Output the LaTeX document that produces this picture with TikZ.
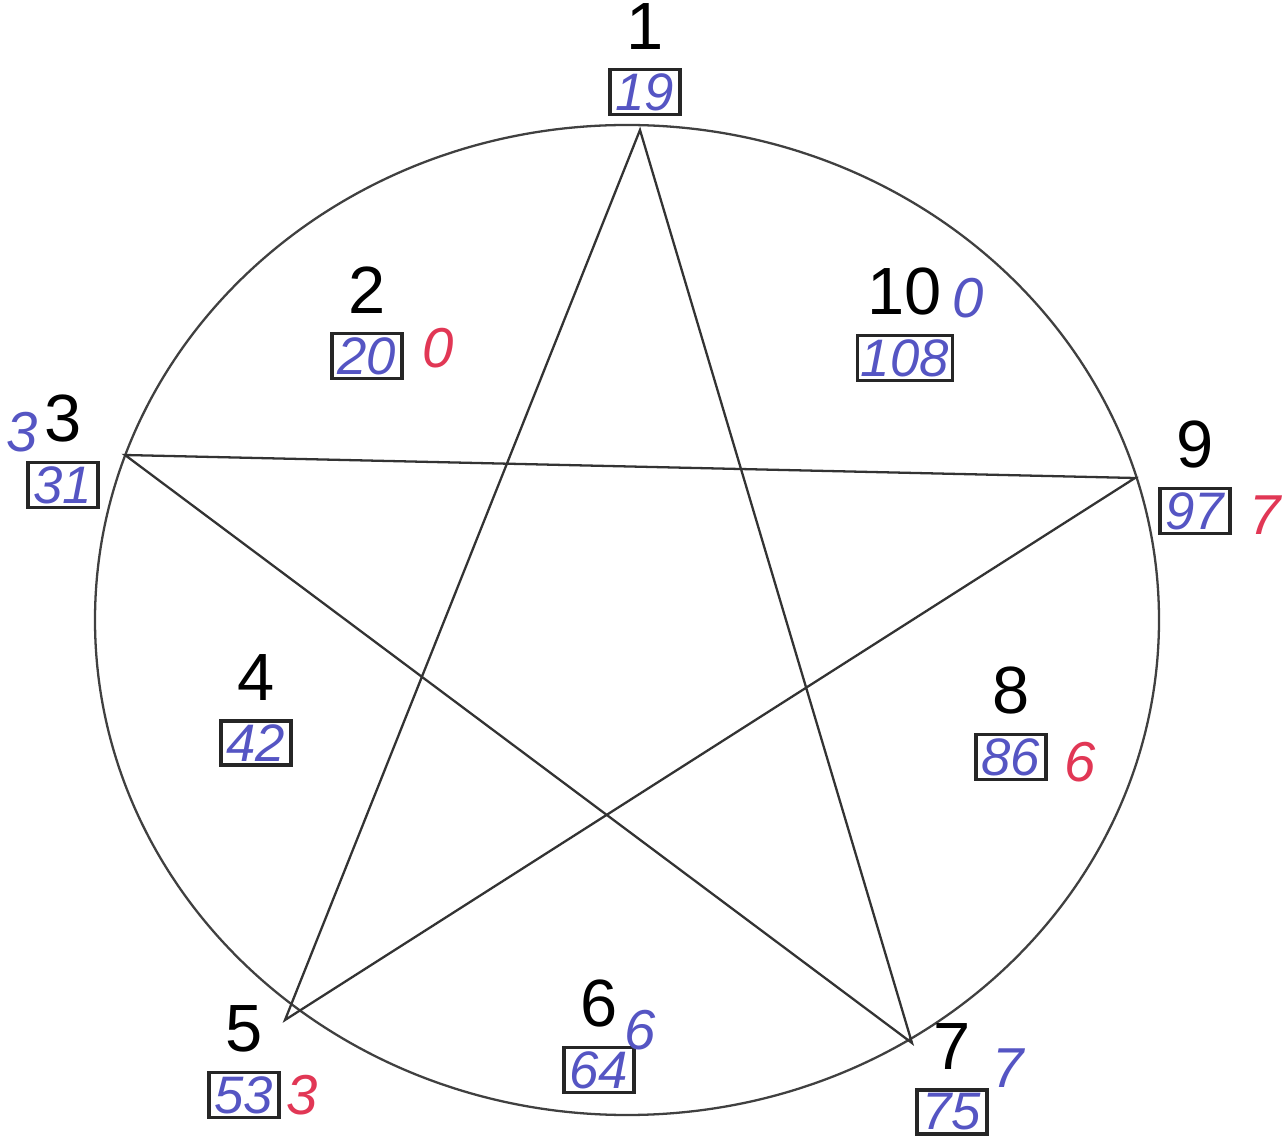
\documentclass[tikz,border=0pt]{standalone}
\usepackage{fontspec}
\setmainfont{Liberation Sans}
\usetikzlibrary{positioning}
\definecolor{penblue}{RGB}{85,85,195}
\definecolor{penred}{RGB}{225,55,85}
\tikzset{
  valbox/.style={draw=black!85, line width=0.9pt, minimum width=0.7cm, minimum height=0.38cm,
    inner sep=1pt, text=penblue, font=\fontsize{15}{16}\selectfont\itshape},
  numlabel/.style={inner sep=0pt, font=\fontsize{19}{20}\selectfont},
  penmark/.style={inner sep=0pt, font=\fontsize{16}{17}\selectfont\itshape}
}
\begin{document}
\begin{tikzpicture}[x=0.01cm, y=-0.01cm, line width=0.65pt]
  \useasboundingbox (0,0) rectangle (1287,1146);
  \draw[black!75] (627,620) ellipse (532 and 495);
  \coordinate (v1) at (640,130);
  \coordinate (v3) at (125,455);
  \coordinate (v9) at (1135,478);
  \coordinate (v5) at (285,1020);
  \coordinate (v7) at (912,1043);
  \draw[black!80] (v1) -- (v5) -- (v9) -- (v3) -- (v7) -- cycle;
  \foreach \name/\bx/\by/\val in {1/645/92/19, 2/367/356/20, 3/63/485/31, 4/256/743/42,
      5/244/1095/53, 6/599/1070/64, 7/952/1112/75, 8/1011/757/86, 9/1195/511/97, 10/905/358/108} {
    \node[valbox] (box\name) at (\bx,\by) {\val};
    \node[numlabel, above=5pt of box\name] (lab\name) {\name};
  }
  % pencil marks
  \node[penmark, text=penred] (mark2) at (438,348) {0};
  \node[penmark, text=penblue] (mark3) at (22,432) {3};
  \node[penmark, text=penred] (mark5) at (302,1095) {3};
  \node[penmark, text=penblue] (mark6) at (640,1030) {6};
  \node[penmark, text=penblue] (mark7) at (1008,1068) {7};
  \node[penmark, text=penred] (mark8) at (1080,762) {6};
  \node[penmark, text=penred] (mark9) at (1265,515) {7};
  \node[penmark, text=penblue] (mark10) at (968,298) {0};
\end{tikzpicture}
\end{document}
